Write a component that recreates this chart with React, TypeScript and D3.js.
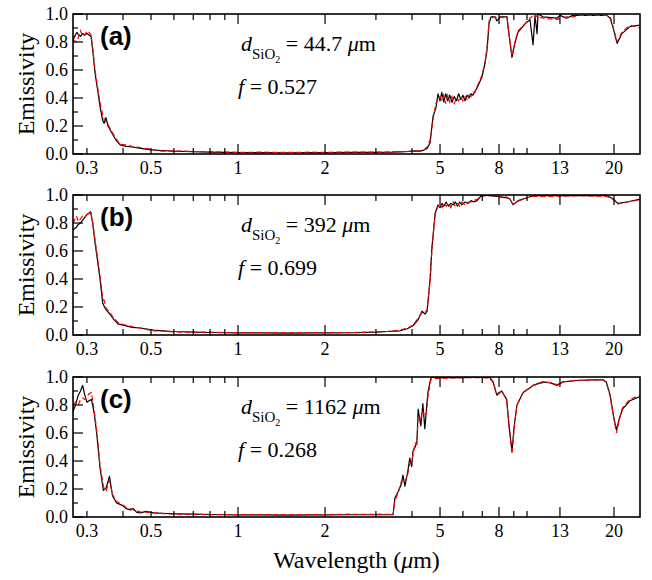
import React from 'react';
import * as d3 from 'd3';

// ---------- data (wavelength in µm, emissivity) ----------
const waveA = [0.268,0.272,0.277,0.281,0.285,0.290,0.295,0.300,0.305,0.310,0.315,0.320,0.327,0.333,0.340,0.344,0.349,0.355,0.366,0.378,0.391,0.41,0.43,0.46,0.50,0.54,0.60,0.70,0.80,0.90,1.0,1.2,1.5,1.8,2.0,2.5,3.0,3.4,3.64,3.9,4.1,4.26,4.4,4.51,4.62,4.73,4.84,4.92,5.0,5.07,5.15,5.23,5.32,5.4,5.5,5.6,5.7,5.8,5.9,6.0,6.1,6.2,6.3,6.4,6.5,6.61,6.71,6.98,7.16,7.27,7.39,7.5,7.75,7.87,8.07,8.53,8.6,8.87,9.08,9.31,9.84,10.24,10.49,10.66,10.83,10.92,11.36,12.7,13.0,13.7,14.4,15.2,18.9,19.4,19.8,20.5,21.3,22.7,24.6];
const blackA = [0.81,0.84,0.87,0.85,0.84,0.86,0.85,0.86,0.85,0.84,0.72,0.58,0.45,0.34,0.24,0.22,0.26,0.20,0.15,0.10,0.065,0.055,0.05,0.04,0.03,0.025,0.02,0.016,0.013,0.012,0.01,0.01,0.009,0.01,0.01,0.011,0.012,0.013,0.015,0.018,0.022,0.02,0.028,0.04,0.08,0.27,0.33,0.43,0.38,0.44,0.37,0.43,0.38,0.42,0.37,0.41,0.38,0.43,0.39,0.42,0.38,0.42,0.40,0.43,0.42,0.45,0.47,0.55,0.65,0.74,0.93,0.98,0.98,0.95,0.98,0.98,0.91,0.69,0.79,0.87,0.93,0.96,0.78,0.99,0.86,1.0,0.98,0.97,0.99,0.97,0.99,0.99,0.99,0.97,0.91,0.79,0.86,0.91,0.92];
const redA = [0.80,0.81,0.80,0.84,0.88,0.84,0.85,0.88,0.87,0.85,0.74,0.60,0.47,0.37,0.28,0.25,0.23,0.21,0.16,0.11,0.07,0.065,0.055,0.045,0.035,0.02,0.022,0.018,0.015,0.014,0.012,0.013,0.011,0.013,0.012,0.014,0.013,0.015,0.016,0.02,0.02,0.025,0.03,0.05,0.1,0.25,0.36,0.40,0.41,0.38,0.42,0.36,0.42,0.37,0.41,0.36,0.40,0.38,0.41,0.38,0.41,0.39,0.42,0.41,0.44,0.44,0.48,0.56,0.66,0.76,0.95,0.97,0.98,0.97,0.98,0.97,0.90,0.70,0.80,0.88,0.93,0.97,0.99,0.97,0.99,0.98,0.97,0.96,0.97,0.98,0.98,0.99,0.99,0.98,0.92,0.80,0.87,0.92,0.90];

const waveB = [0.268,0.272,0.276,0.280,0.285,0.290,0.295,0.300,0.305,0.309,0.314,0.320,0.327,0.333,0.340,0.345,0.350,0.360,0.372,0.384,0.40,0.41,0.43,0.458,0.51,0.55,0.60,0.70,0.80,0.90,1.0,1.2,1.5,1.8,2.0,2.5,3.0,3.3,3.64,3.85,4.03,4.20,4.33,4.44,4.51,4.62,4.69,4.81,4.92,5.0,5.08,5.15,5.25,5.35,5.45,5.55,5.65,5.75,5.85,5.95,6.1,6.25,6.4,6.55,6.71,6.98,7.4,7.87,8.53,8.7,8.95,9.31,10.0,10.5,12.0,15.0,18.9,19.8,20.6,22.2,24.6];
const blackB = [0.75,0.76,0.77,0.79,0.80,0.82,0.84,0.86,0.87,0.88,0.80,0.66,0.52,0.40,0.23,0.20,0.18,0.15,0.11,0.08,0.07,0.065,0.055,0.05,0.035,0.03,0.025,0.02,0.018,0.016,0.015,0.015,0.014,0.015,0.015,0.016,0.02,0.025,0.03,0.045,0.066,0.11,0.17,0.15,0.17,0.40,0.63,0.87,0.93,0.91,0.94,0.92,0.95,0.92,0.94,0.93,0.95,0.92,0.95,0.93,0.95,0.94,0.96,0.95,0.96,1.0,0.995,0.99,0.98,0.975,0.93,0.96,0.98,0.995,0.995,0.995,0.995,0.975,0.94,0.95,0.97];
const redB = [0.80,0.82,0.85,0.81,0.83,0.85,0.84,0.86,0.87,0.88,0.81,0.68,0.54,0.42,0.27,0.24,0.19,0.16,0.12,0.09,0.075,0.07,0.06,0.05,0.03,0.028,0.022,0.02,0.02,0.018,0.016,0.018,0.016,0.018,0.017,0.018,0.022,0.026,0.035,0.05,0.07,0.12,0.16,0.16,0.18,0.38,0.62,0.86,0.92,0.93,0.91,0.94,0.92,0.94,0.91,0.95,0.92,0.94,0.92,0.95,0.93,0.95,0.95,0.96,0.97,0.99,1.0,0.99,0.985,0.97,0.935,0.955,0.98,0.99,0.99,0.995,0.99,0.97,0.935,0.95,0.965];

const waveC = [0.268,0.274,0.280,0.285,0.290,0.295,0.300,0.305,0.311,0.318,0.325,0.333,0.342,0.350,0.359,0.368,0.38,0.396,0.41,0.425,0.434,0.445,0.46,0.48,0.51,0.566,0.62,0.70,0.80,0.90,1.0,1.2,1.5,1.8,2.0,2.4,2.8,3.1,3.44,3.49,3.58,3.68,3.72,3.78,3.87,3.93,3.99,4.03,4.10,4.16,4.20,4.29,4.36,4.43,4.50,4.54,4.64,4.67,5.0,6.0,7.0,7.45,7.63,7.86,8.17,8.5,8.67,8.87,9.03,9.23,9.7,10.5,11.35,12.0,12.7,13.3,14.8,16.9,18.3,18.8,19.4,19.9,20.4,20.9,21.4,22.7,24.6];
const blackC = [0.75,0.80,0.87,0.90,0.94,0.87,0.82,0.83,0.84,0.74,0.58,0.35,0.19,0.21,0.29,0.15,0.10,0.085,0.06,0.05,0.06,0.035,0.03,0.04,0.03,0.025,0.022,0.02,0.018,0.016,0.015,0.015,0.014,0.015,0.015,0.016,0.016,0.016,0.016,0.135,0.18,0.24,0.30,0.22,0.33,0.42,0.36,0.47,0.50,0.54,0.77,0.65,0.81,0.63,0.80,0.89,0.985,1.0,0.995,0.995,1.0,0.995,0.965,0.87,0.90,0.84,0.65,0.47,0.65,0.80,0.89,0.94,0.965,0.96,0.94,0.965,0.975,0.98,0.98,0.965,0.87,0.725,0.62,0.71,0.77,0.83,0.86];
const redC = [0.80,0.82,0.80,0.84,0.85,0.84,0.86,0.88,0.89,0.76,0.60,0.37,0.22,0.19,0.26,0.16,0.11,0.09,0.07,0.06,0.05,0.045,0.035,0.035,0.03,0.022,0.02,0.02,0.017,0.018,0.016,0.017,0.016,0.018,0.017,0.02,0.018,0.02,0.018,0.12,0.17,0.26,0.25,0.25,0.31,0.38,0.40,0.44,0.53,0.52,0.72,0.70,0.75,0.72,0.76,0.86,0.97,0.99,0.99,0.995,0.995,0.99,0.96,0.88,0.90,0.84,0.64,0.45,0.64,0.80,0.89,0.94,0.96,0.96,0.945,0.965,0.975,0.98,0.98,0.96,0.86,0.72,0.60,0.70,0.78,0.84,0.87];

const xTicksMajor = [1, 2, 5, 8, 13, 20];
const xTicksMinor = [0.3, 0.4, 0.5, 0.6, 0.7, 0.8, 0.9, 3, 4, 6, 7, 9, 10];
const xTickLabels = [0.3, 0.5, 1, 2, 5, 8, 13, 20];
const yTicksMajor = [0, 0.2, 0.4, 0.6, 0.8, 1.0];
const yTicksMinor = [0.1, 0.3, 0.5, 0.7, 0.9];
const panelLabels = ['(a)', '(b)', '(c)'];
const thicknessLabels = ['44.7', '392', '1162'];
const fillLabels = ['0.527', '0.699', '0.268'];

const waves = [waveA, waveB, waveC];
const blacks = [blackA, blackB, blackC];
const reds = [redA, redB, redC];

// ---------- layout ----------
const W = 652, H = 580;
const L = 73, R = 640;
const PH = 140;
const tops = [14, 195, 377];

export default function App() {
  const x = d3.scaleLog().domain([0.2685, 24.6]).range([L, R]);

  return (
    <svg width={W} height={H}
      style={{ position: 'absolute', left: 0, top: 0, background: '#fff' }}>
      {tops.map((top, i) => {
        const y = d3.scaleLinear().domain([0, 1]).range([top + PH, top]);
        const line = d3.line<number>()
          .x((_, k) => x(waves[i][k]))
          .y((v) => y(v));
        const bottom = top + PH;
        return (
          <g key={i}>
            <defs>
              <clipPath id={`clip${i}`}>
                <rect x={L} y={top} width={R - L} height={PH} />
              </clipPath>
            </defs>
            <g clipPath={`url(#clip${i})`}>
              <path d={line(blacks[i]) || ''} fill="none" stroke="#000" strokeWidth={1.2} strokeLinejoin="round" />
              <path d={line(reds[i]) || ''} fill="none" stroke="#ff0000" strokeWidth={1.2} strokeDasharray="5,3" />
            </g>
            {xTicksMajor.map((t) => (
              <g key={'M' + t}>
                <line x1={x(t)} x2={x(t)} y1={bottom} y2={bottom - 10} stroke="#000" strokeWidth={1.2} />
                <line x1={x(t)} x2={x(t)} y1={top} y2={top + 10} stroke="#000" strokeWidth={1.2} />
              </g>
            ))}
            {xTicksMinor.map((t) => (
              <g key={'m' + t}>
                <line x1={x(t)} x2={x(t)} y1={bottom} y2={bottom - 6} stroke="#000" strokeWidth={1.2} />
                <line x1={x(t)} x2={x(t)} y1={top} y2={top + 6} stroke="#000" strokeWidth={1.2} />
              </g>
            ))}
            {xTickLabels.map((t) => (
              <text key={'l' + t} x={x(t)} y={bottom + 20} textAnchor="middle" fontSize={18} fill="#000">{String(t)}</text>
            ))}
            {yTicksMajor.map((t) => (
              <g key={'yM' + t}>
                <line x1={L} x2={L + 10} y1={y(t)} y2={y(t)} stroke="#000" strokeWidth={1.2} />
                <text x={L - 5} y={y(t) + 6} textAnchor="end" fontSize={18} fill="#000">{t.toFixed(1)}</text>
              </g>
            ))}
            {yTicksMinor.map((t) => (
              <line key={'ym' + t} x1={L} x2={L + 5} y1={y(t)} y2={y(t)} stroke="#000" strokeWidth={1.2} />
            ))}
            <rect x={L} y={top} width={R - L} height={PH} fill="none" stroke="#000" strokeWidth={1.6} />
            <text transform={`translate(34, ${top + PH / 2}) rotate(-90)`} textAnchor="middle" fontSize={24} fill="#000">Emissivity</text>
            <text x={100} y={top + 31} style={{ fontFamily: 'Liberation Sans' }} fontWeight="bold" fontSize={26} fill="#000">{panelLabels[i]}</text>
            <text x={241} y={top + 37} fontSize={22} fill="#000" style={{ whiteSpace: 'pre' }}>
              <tspan fontStyle="italic">d</tspan>
              <tspan fontSize={15} dy={8}>SiO</tspan>
              <tspan fontSize={10} dy={4}>2</tspan>
              <tspan dy={-12}>{` = ${thicknessLabels[i]} `}</tspan>
              <tspan fontStyle="italic">μ</tspan>
              <tspan>m</tspan>
            </text>
            <text x={238} y={top + 80} fontSize={22} fill="#000" style={{ whiteSpace: 'pre' }}>
              <tspan fontStyle="italic">f</tspan>
              <tspan>{` = ${fillLabels[i]}`}</tspan>
            </text>
          </g>
        );
      })}
      <text x={(L + R) / 2} y={568} textAnchor="middle" fontSize={24} fill="#000" style={{ whiteSpace: 'pre' }}>
        <tspan>Wavelength (</tspan>
        <tspan fontStyle="italic">μ</tspan>
        <tspan>m)</tspan>
      </text>
    </svg>
  );
}
